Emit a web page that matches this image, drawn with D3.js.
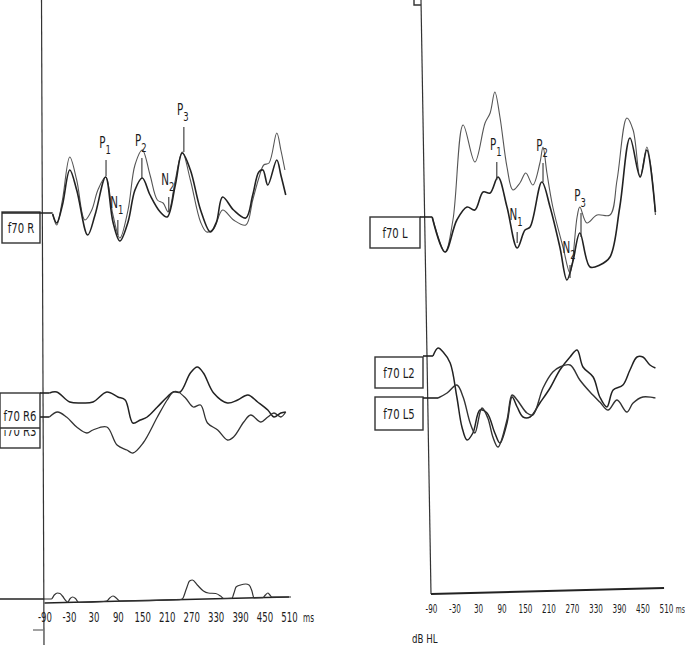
<!DOCTYPE html>
<html>
<head>
<meta charset="utf-8">
<script src="https://cdnjs.cloudflare.com/ajax/libs/d3/7.8.5/d3.min.js"></script>
<style>
    body { margin: 0; background: #fff; }
    svg { display: block; }
    text { font-family: "Liberation Sans Narrow", "DejaVu Sans Condensed", "Liberation Sans", sans-serif; fill: #1c1c1c; }
</style>
</head>
<body>
<svg id="erpChart" width="685" height="645"></svg>
<script>
// time ticks (ms)
var ticksMs = [-90, -30, 30, 90, 150, 210, 270, 330, 390, 450, 510];

// right ear, f70 R : two runs  [ms, uV]
var r70Thin = [[-70,0],[-60,-1.1],[-46,1.4],[-28,5.7],[-11,3.4],[9,-0.6],[26,0.4],[41,2.4],[60,3.7],[78,-0.1],[95,-2.4],[115,0.4],[132,4.9],[150,6.4],[169,3.9],[187,1.4],[201,1.1],[214,0.2],[231,3.4],[248,6.2],[268,3.4],[293,-0.8],[308,-1.8],[325,-1.5],[347,0.4],[374,-0.6],[404,-1.1],[421,1.4],[436,3.6],[448,4.9],[461,5.1],[480,8.1],[490,6.4],[500,4.4]];
var r70Dark = [[-70,0],[-60,-0.9],[-46,0.9],[-28,4.4],[-11,2.4],[16,-2.1],[34,-0.1],[60,3.7],[78,-0.8],[95,-2.7],[115,-0.8],[132,2.4],[150,3.6],[169,1.9],[194,0.2],[211,-0.3],[231,2.9],[248,6.1],[268,4.4],[293,0.4],[317,-1.8],[332,-0.8],[347,1.7],[374,0.4],[404,-0.4],[421,1.9],[436,4.2],[446,4.4],[458,2.9],[480,5.4],[490,3.9],[502,1.9]];

// right ear, f70 R6 / f70 R3
var r6 = [[-78,0],[-60,0.1],[-28,-0.9],[4,-1.0],[29,-0.9],[63,0.1],[90,-0.4],[108,-0.7],[127,-3.0],[145,-2.7],[162,-2.4],[187,-1.4],[211,-0.4],[226,0.1],[243,0.1],[268,2.0],[285,2.6],[300,2.0],[325,0],[359,-1.0],[384,-0.7],[409,-0.2],[433,-0.9],[458,-1.7],[473,-2.4],[490,-2.0],[502,-1.9]];
var r3 = [[-78,0],[-58,0.5],[-36,0],[-11,-1.0],[14,-1.6],[29,-1.3],[63,-1.0],[88,-2.8],[112,-3.3],[127,-3.6],[152,-2.6],[187,0],[211,1.7],[226,2.5],[238,2.5],[256,1.9],[275,1.0],[293,1.2],[310,-0.6],[335,-1.3],[359,-2.3],[374,-2.0],[399,-0.5],[416,0.2],[441,-0.5],[458,0],[473,0.4],[490,0],[502,0.5]];

// right ear, bottom traces
var sigA = [[-90,0.2],[-73,0.2],[-66,0.6],[-58,0.8],[-52,0.75],[-46,0.5],[-38,0.05],[-33,-0.1],[-27,0.25],[-21,0.4],[-14,0.25],[-6,-0.15],[55,-0.05],[63,0],[70,0.3],[78,0.5],[86,0.3],[95,0],[240,0.13],[248,0.2],[258,1.2],[266,2.0],[273,2.1],[285,1.6],[300,1.0],[312,0.8],[330,0.75],[342,0.5],[350,0.25],[370,0.27],[375,0.8],[380,1.4],[391,1.6],[404,1.7],[412,1.6],[419,1.0],[424,0.32],[446,0.33],[452,0.6],[458,0.8],[463,0.6],[468,0.4],[515,0.4]];
var sigB = [[-90,-0.2],[510,0.4]];

// left ear, f70 L : two runs
var l70Thin = [[-87,0],[-54,-3.5],[-34,-0.3],[-8,9.2],[22,5.5],[48,9.4],[61,10.4],[73,12.5],[86,10.0],[104,5.0],[119,2.7],[137,3.4],[152,4.4],[170,3.2],[188,5.4],[196,7.0],[206,4.4],[221,1.0],[247,-3.0],[265,-5.6],[283,0],[290,1.0],[308,-0.6],[334,0.2],[367,0.2],[385,3.7],[410,9.9],[426,8.7],[444,4.0],[461,7.0],[469,5.7],[483,0.2]];
var l70Dark = [[-87,0],[-54,-3.5],[-24,-0.3],[2,1.0],[22,0.7],[43,2.5],[61,2.4],[81,4.0],[104,1.0],[130,-3.1],[150,-1.3],[163,-1.0],[193,3.5],[214,1.0],[239,-3.0],[257,-6.3],[272,-4.5],[290,-1.6],[316,-5.0],[341,-4.8],[367,-4.0],[392,1.0],[418,7.9],[444,4.0],[461,6.7],[483,0.5]];

// left ear, f70 L2 / f70 L5
var l2 = [[-85,0],[-72,0.8],[-59,0.4],[-41,-0.7],[-24,-4.1],[-11,-7.1],[2,-8.4],[17,-7.7],[35,-5.4],[53,-5.7],[73,-7.7],[86,-8.7],[104,-6.7],[117,-4.1],[130,-5.1],[145,-6.1],[163,-6.1],[188,-4.7],[214,-3.2],[239,-1.4],[265,-0.1],[283,0.6],[298,-1.1],[324,-2.1],[341,-4.1],[359,-5.1],[375,-3.4],[400,-2.9],[418,-1.4],[436,-0.1],[451,-0.1],[469,-0.9],[483,-1.2]];
var l5 = [[-72,0],[-49,0.5],[-24,1.3],[-8,0.1],[10,-2.5],[22,-3.5],[40,-1.0],[55,-2.0],[68,-3.9],[81,-4.9],[104,-2.2],[117,0.3],[130,-0.2],[155,-1.5],[170,-1.7],[196,1.0],[221,2.6],[239,3.1],[265,3.3],[290,1.8],[316,0.6],[341,-0.4],[362,-1.2],[385,-0.2],[410,-1.4],[426,-0.5],[451,0.1],[483,0]];

// peak markers [letter, index, ms, uV top, uV bottom]
var peaksR = [["P","1",61,5.4,3.8],["N","1",90,-0.6,-2.1],["P","2",149,5.6,3.6],["N","2",215,1.7,0.2],["P","3",252,8.7,6.2]];
var peaksL = [["P","1",78,5.5,3.7],["N","1",130,-1.5,-2.6],["P","2",196,5.4,3.5],["N","2",265,-4.8,-6.1],["P","3",293,0.4,-2.0]];

var svg = d3.select("#erpChart");

var xL = d3.scaleLinear().domain([-90, 510]).range([44.5, 289]);
var xR = d3.scaleLinear().domain([-90, 510]).range([431, 666]);
var amp = d3.scaleLinear().domain([0, 1]).range([0, -10]);

var ink = "#222";

var drawTrace = function(data, xs, base, width, colour, curve) {
    var line = d3.line()
        .x(function(d) { return xs(d[0]); })
        .y(function(d) { return base + amp(d[1]); })
        .curve(curve || d3.curveCatmullRom.alpha(0.5));
    svg.append("path")
        .datum(data)
        .attr("d", line)
        .attr("fill", "none")
        .attr("stroke", colour)
        .attr("stroke-width", width)
        .attr("stroke-linejoin", "round");
};

var drawBox = function(x, y, w, h, label, ty) {
    svg.append("rect")
        .attr("x", x).attr("y", y).attr("width", w).attr("height", h)
        .attr("fill", "none").attr("stroke", "#333").attr("stroke-width", 1.4);
    if (label) {
        svg.append("text")
            .attr("transform", "translate(" + (x + w / 2) + "," + ty + ") scale(0.8,1)")
            .attr("text-anchor", "middle")
            .style("font-size", "14px")
            .text(label);
    }
};

var stub = function(x1, x2, y) {
    svg.append("line")
        .attr("x1", x1).attr("x2", x2).attr("y1", y).attr("y2", y)
        .attr("stroke", ink).attr("stroke-width", 1.6);
};

var drawPeaks = function(peaks, xs, base) {
    peaks.forEach(function(p) {
        var x = xs(p[2]), yTop = base + amp(p[3]), yBot = base + amp(p[4]);
        svg.append("line")
            .attr("x1", x).attr("x2", x).attr("y1", yTop).attr("y2", yBot)
            .attr("stroke", "#333").attr("stroke-width", 1.1);
        var t = svg.append("text")
            .attr("transform", "translate(" + (x - 1) + "," + (yTop - 12) + ") scale(0.72,1)")
            .attr("text-anchor", "middle")
            .style("font-size", "16px");
        t.append("tspan").text(p[0]);
        t.append("tspan").attr("dy", 6).style("font-size", "13px").text(p[1]);
    });
};

var drawTimeAxis = function(xs, y, msX, squeeze, size) {
    var g = svg.append("g").attr("transform", "translate(0," + y + ")")
        .call(d3.axisBottom(xs).tickValues(ticksMs).tickSize(0)
            .tickFormat(function(d) { return String(d); }));
    g.select(".domain").remove();
    g.selectAll("text")
        .attr("y", 0).attr("dy", 0)
        .attr("transform", "scale(" + squeeze + ",1)")
        .attr("fill", "#1c1c1c")
        .style("font-family", "'Liberation Sans Narrow', 'DejaVu Sans Condensed', sans-serif")
        .style("font-size", size + "px");
    svg.append("text")
        .attr("transform", "translate(" + msX + "," + y + ") scale(" + squeeze + ",1)")
        .attr("text-anchor", "end")
        .style("font-size", (size - 2) + "px")
        .text("ms");
};

// frames
svg.append("line").attr("x1", 41.5).attr("y1", 0).attr("x2", xL(-90) - 0.5).attr("y2", 645)
    .attr("stroke", "#333").attr("stroke-width", 1.2);
svg.append("line").attr("x1", 421).attr("y1", 0).attr("x2", xR(-90)).attr("y2", 594)
    .attr("stroke", "#333").attr("stroke-width", 1.2);
svg.append("line").attr("x1", xR(-90)).attr("y1", 594).attr("x2", xR(505)).attr("y2", 588)
    .attr("stroke", ink).attr("stroke-width", 2);
svg.append("path").attr("d", "M414,0V5H421").attr("fill", "none")
    .attr("stroke", "#333").attr("stroke-width", 1.4);
svg.append("line").attr("x1", 33).attr("x2", 43).attr("y1", 630).attr("y2", 630)
    .attr("stroke", "#444").attr("stroke-width", 1);

// right ear panel
var baseR = 214, baseR6 = 393, baseR3 = 417, baseSig = 601;
drawBox(2, 212, 38, 31, "f70 R", 233);
stub(2, xL(r70Dark[0][0]), baseR - 1);
drawTrace(r70Thin, xL, baseR, 1.1, "#555");
drawTrace(r70Dark, xL, baseR, 1.6, ink);
drawPeaks(peaksR, xL, baseR);

drawBox(0, 393, 40, 55, "f70 R6", 421);
svg.append("line").attr("x1", 0).attr("x2", 40).attr("y1", 428).attr("y2", 428)
    .attr("stroke", "#333").attr("stroke-width", 1.4);
svg.append("clipPath").attr("id", "r3clip").append("rect")
    .attr("x", 0).attr("y", 430).attr("width", 40).attr("height", 17);
svg.append("g")
    .attr("clip-path", "url(#r3clip)")
    .append("text")
    .attr("transform", "translate(20,436) scale(0.8,1)")
    .attr("text-anchor", "middle")
    .style("font-size", "14px")
    .text("f70 R3");
stub(40, xL(r6[0][0]), baseR6);
stub(40, xL(r3[0][0]), baseR3);
drawTrace(r6, xL, baseR6, 1.5, ink);
drawTrace(r3, xL, baseR3, 1.3, "#333");

stub(0, xL(-90), baseSig - 2);
drawTrace(sigB, xL, baseSig, 1.5, ink, d3.curveLinear);
drawTrace(sigA, xL, baseSig, 1.2, "#333", d3.curveMonotoneX);

drawTimeAxis(xL, 622, 314, 0.68, 14);

// left ear panel
var baseL = 217, baseL2 = 356, baseL5 = 398;
drawBox(370, 217, 50, 31, "f70 L", 238);
stub(420, xR(l70Dark[0][0]), baseL);
drawTrace(l70Thin, xR, baseL, 1.1, "#555");
drawTrace(l70Dark, xR, baseL, 1.6, ink);
drawPeaks(peaksL, xR, baseL);

drawBox(375, 357, 48, 31, "f70 L2", 378);
drawBox(375, 397, 48, 33, "f70 L5", 419);
stub(423, xR(l2[0][0]), baseL2);
stub(423, xR(l5[0][0]), baseL5);
drawTrace(l2, xR, baseL2, 1.5, ink);
drawTrace(l5, xR, baseL5, 1.4, "#333");

drawTimeAxis(xR, 613, 685, 0.62, 13);

svg.append("text")
    .attr("transform", "translate(412,643) scale(0.8,1)")
    .style("font-size", "12px")
    .text("dB HL");
</script>
</body>
</html>
